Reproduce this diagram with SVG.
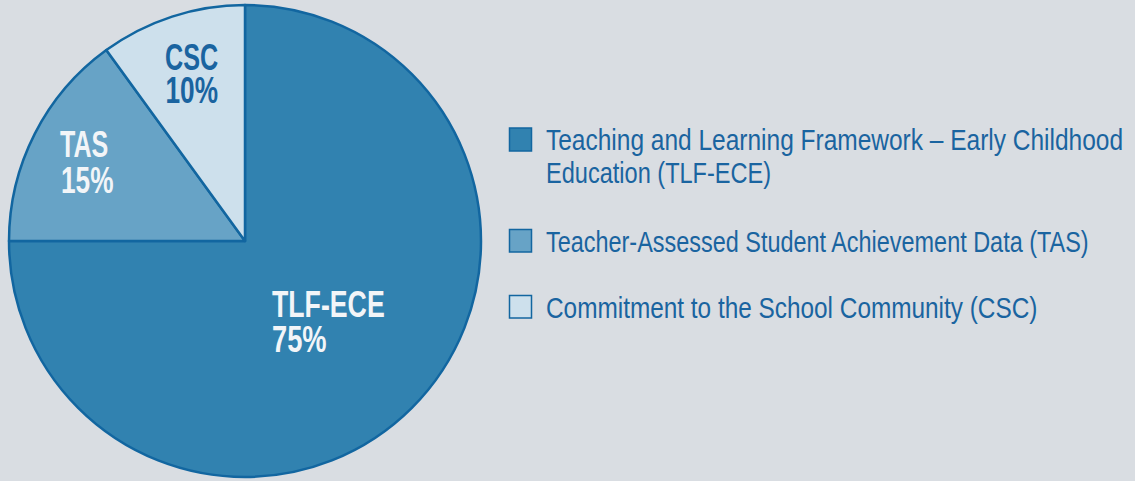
<svg xmlns="http://www.w3.org/2000/svg" width="1135" height="481" viewBox="0 0 1135 481">
<style>
.sl{stroke:#1266a0;stroke-width:2.5;stroke-linejoin:round}
.lbl{font-family:"Liberation Sans",Arial,sans-serif;font-weight:bold;font-size:37px}
.w{fill:#f2f5f8}
.b{fill:#1a64a0}
.leg{font-family:"Liberation Sans",Arial,sans-serif;font-size:29px;fill:#1a64a0}
.sw{stroke:#1266a0;stroke-width:1.5}
</style>
<rect width="1135" height="481" fill="#d9dde2"/>
<g id="pie">
<g id="slice-tlf"><path class="sl" fill="#3182b0" d="M245,241 L245,5 A236,236 0 1 1 9,241 Z"/>
<text class="lbl w" transform="translate(272,317) scale(0.7,1)" x="0" y="0" textLength="161" lengthAdjust="spacingAndGlyphs">TLF-ECE</text>
<text class="lbl w" transform="translate(272,352) scale(0.7,1)" x="0" y="0" textLength="78" lengthAdjust="spacingAndGlyphs">75%</text></g>
<g id="slice-tas"><path class="sl" fill="#67a3c6" d="M245,241 L9,241 A236,236 0 0 1 106.3,50.1 Z"/>
<text class="lbl w" transform="translate(60,157) scale(0.7,1)" x="0" y="0" textLength="69" lengthAdjust="spacingAndGlyphs">TAS</text>
<text class="lbl w" transform="translate(61,193) scale(0.7,1)" x="0" y="0" textLength="75" lengthAdjust="spacingAndGlyphs">15%</text></g>
<g id="slice-csc"><path class="sl" fill="#cde0ec" d="M245,241 L106.3,50.1 A236,236 0 0 1 245,5 Z"/>
<text class="lbl b" transform="translate(165,70) scale(0.7,1)" x="0" y="0" textLength="76" lengthAdjust="spacingAndGlyphs">CSC</text>
<text class="lbl b" transform="translate(165.5,103) scale(0.7,1)" x="0" y="0" textLength="75" lengthAdjust="spacingAndGlyphs">10%</text></g>
</g>
<g id="legend">
<g id="leg-tlf"><rect class="sw" x="509.5" y="128" width="22" height="23" fill="#3182b0"/>
<text class="leg" transform="translate(546,150) scale(0.84,1)" x="0" y="0" textLength="687" lengthAdjust="spacingAndGlyphs">Teaching and Learning Framework – Early Childhood</text>
<text class="leg" transform="translate(546,183) scale(0.84,1)" x="0" y="0" textLength="268" lengthAdjust="spacingAndGlyphs">Education (TLF-ECE)</text></g>
<g id="leg-tas"><rect class="sw" x="509.5" y="229.5" width="22" height="22.5" fill="#67a3c6"/>
<text class="leg" transform="translate(546,252) scale(0.84,1)" x="0" y="0" textLength="646" lengthAdjust="spacingAndGlyphs">Teacher-Assessed Student Achievement Data (TAS)</text></g>
<g id="leg-csc"><rect class="sw" x="509.5" y="295.5" width="22" height="22.5" fill="#cde0ec"/>
<text class="leg" transform="translate(546,318) scale(0.84,1)" x="0" y="0" textLength="585" lengthAdjust="spacingAndGlyphs">Commitment to the School Community (CSC)</text></g>
</g>
</svg>
